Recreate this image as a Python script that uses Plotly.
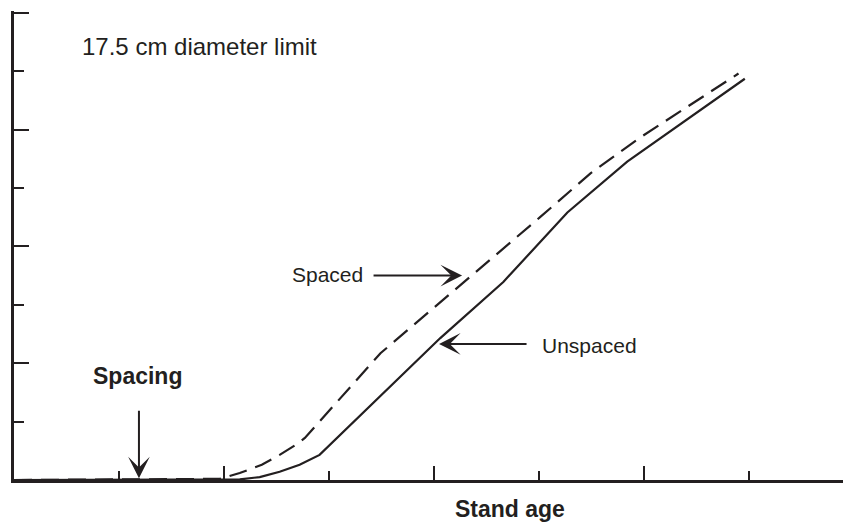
import plotly.graph_objects as go

# stand age (axis units, one per x tick) and stand value for both treatments
unspaced_age   = [0.0, 1.96, 2.15, 2.34, 2.53, 2.72, 2.91, 4.06, 4.66, 5.27, 5.84, 6.96]
unspaced_value = [0.0, 0.0, 0.01, 0.05, 0.14, 0.26, 0.43, 2.43, 3.39, 4.58, 5.45, 6.87]

spaced_age     = [0.0, 1.96, 2.15, 2.36, 2.53, 2.70, 2.77, 3.49, 5.01, 5.49, 5.96, 6.90]
spaced_value   = [0.0, 0.02, 0.12, 0.26, 0.43, 0.62, 0.72, 2.17, 4.50, 5.25, 5.86, 6.96]

x_major = [2, 4, 6]
x_minor = [1, 3, 5, 7]
y_major = [2, 4, 6, 8]
y_minor = [1, 3, 5, 7]

INK  = "#231f20"
FONT = "Liberation Sans, Arial, sans-serif"

fig = go.Figure()

fig.add_trace(go.Scatter(x    = unspaced_age,
                         y    = unspaced_value,
                         mode = "lines",
                         line = dict(color = INK, width = 2.2),
                         name = "Unspaced"))

fig.add_trace(go.Scatter(x    = spaced_age,
                         y    = spaced_value,
                         mode = "lines",
                         line = dict(color = INK, width = 2.2, dash = "18px,9px"),
                         name = "Spaced"))

axis_common = dict(showgrid       = False,
                   zeroline       = False,
                   showline       = True,
                   linecolor      = INK,
                   linewidth      = 2.5,
                   ticks          = "inside",
                   tickcolor      = INK,
                   tickwidth      = 2,
                   showticklabels = False,
                   tickmode       = "array")

fig.update_xaxes(range    = [0, 7.895],
                 tickvals = x_major,
                 ticklen  = 14,
                 minor    = dict(tickvals  = x_minor,
                                 ticks     = "inside",
                                 ticklen   = 9,
                                 tickwidth = 2,
                                 tickcolor = INK),
                 **axis_common)

# a touch of headroom so the top tick at 8 is still drawn
fig.update_yaxes(range    = [0, 8.03],
                 tickvals = y_major,
                 ticklen  = 15,
                 minor    = dict(tickvals  = y_minor,
                                 ticks     = "inside",
                                 ticklen   = 10,
                                 tickwidth = 2,
                                 tickcolor = INK),
                 **axis_common)

labels = [
    dict(text = "17.5 cm diameter limit", x = 0.629, y = 7.42, xanchor = "left",   size = 24, bold = False),
    dict(text = "Spacing",                x = 1.176, y = 1.78, xanchor = "center", size = 23, bold = True),
    dict(text = "Spaced",                 x = 2.629, y = 3.52, xanchor = "left",   size = 21, bold = False),
    dict(text = "Unspaced",               x = 5.010, y = 2.31, xanchor = "left",   size = 21, bold = False),
]

for lab in labels:
    fig.add_annotation(x         = lab["x"],
                       y         = lab["y"],
                       text      = f"<b>{lab['text']}</b>" if lab["bold"] else lab["text"],
                       showarrow = False,
                       xanchor   = lab["xanchor"],
                       yanchor   = "middle",
                       font      = dict(family = FONT, size = lab["size"], color = INK))

# axis title sits below the plot area, so it goes on paper coordinates
fig.add_annotation(x         = 4.724,
                   y         = -0.062,
                   yref      = "paper",
                   text      = "<b>Stand age</b>",
                   showarrow = False,
                   xanchor   = "center",
                   yanchor   = "middle",
                   font      = dict(family = FONT, size = 23, color = INK))

# arrows: tip in data units, tail as pixel offset
arrows = [
    dict(x = 1.190, y = 0.03, ax = 0,   ay = -69),
    dict(x = 4.267, y = 3.50, ax = -90, ay = 0),
    dict(x = 4.048, y = 2.33, ax = 89,  ay = 0),
]

for arr in arrows:
    fig.add_annotation(x          = arr["x"],
                       y          = arr["y"],
                       ax         = arr["ax"],
                       ay         = arr["ay"],
                       text       = "",
                       showarrow  = True,
                       arrowhead  = 3,
                       arrowsize  = 1.8,
                       arrowwidth = 2,
                       arrowcolor = INK,
                       standoff   = 0)

fig.update_layout(width         = 843,
                  height        = 527,
                  margin        = dict(l = 14, r = 0, t = 11, b = 47),
                  plot_bgcolor  = "white",
                  paper_bgcolor = "white",
                  showlegend    = False,
                  font          = dict(family = FONT, color = INK))

# drop the default page margin so the figure sits flush in the window
fig.write_html("out.html",
               config      = {"displayModeBar": False},
               post_script = "document.body.style.margin = '0'; document.body.style.overflow = 'hidden';")
